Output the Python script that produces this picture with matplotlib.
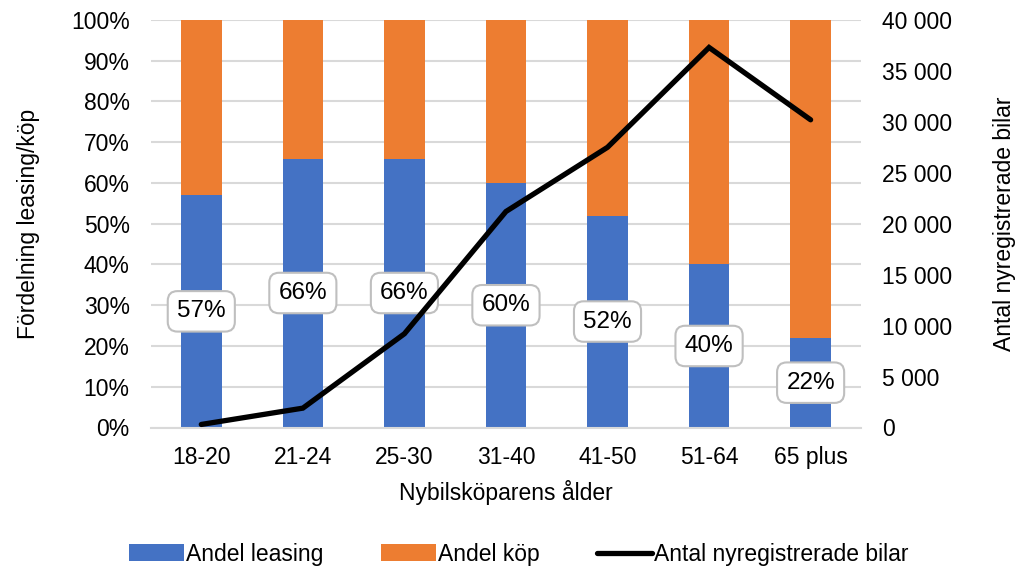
import matplotlib.pyplot as plt
import numpy as np
from matplotlib.ticker import FuncFormatter

plt.rcParams['font.family'] = ['Liberation Sans', 'DejaVu Sans']

# age groups and shares (percent of new-car buyers)
age_groups = ['18-20', '21-24', '25-30', '31-40', '41-50', '51-64', '65 plus']
andel_leasing = [57, 66, 66, 60, 52, 40, 22]
andel_kop = [100 - v for v in andel_leasing]
# registered cars per age group
antal_bilar = [300, 1900, 9200, 21200, 27500, 37300, 30200]

blue = '#4472c4'
orange = '#ed7d31'
grid_col = '#d9d9d9'
fs = 16.5

fig = plt.figure(figsize=(10.17, 5.70), dpi=100)
ax = fig.add_axes([0.148, 0.25, 0.699, 0.715])
ax2 = ax.twinx()

x = np.arange(len(age_groups))
b1 = ax.bar(x, andel_leasing, width=0.4, color=blue, label='Andel leasing', zorder=2)
b2 = ax.bar(x, andel_kop, width=0.4, bottom=andel_leasing, color=orange,
            label='Andel köp', zorder=2)

for xi, v in zip(x, andel_leasing):
    ax.text(xi, v / 2, f'{v}%', ha='center', va='center', fontsize=17.5, zorder=5,
            bbox=dict(boxstyle='round,pad=0.38,rounding_size=0.4', fc='white',
                      ec='#bfbfbf', lw=1.5))

ln, = ax2.plot(x, antal_bilar, color='black', lw=3.8, solid_capstyle='round',
               solid_joinstyle='miter', label='Antal nyregistrerade bilar', zorder=4)

ax.set_xlim(-0.5, len(age_groups) - 0.5)
ax.set_ylim(0, 100)
ax.set_yticks(range(0, 101, 10))
ax.yaxis.set_major_formatter(FuncFormatter(lambda v, p: f'{v:.0f}%'))
ax2.set_ylim(0, 40000)
ax2.set_yticks(range(0, 40001, 5000))
ax2.yaxis.set_major_formatter(
    FuncFormatter(lambda v, p: f'{int(v):,}'.replace(',', ' ')))

ax.set_xticks(x)
ax.set_xticklabels(age_groups)
ax.grid(axis='y', color=grid_col, lw=1.5, zorder=0)
ax.set_axisbelow(True)

for a in (ax, ax2):
    for s in a.spines.values():
        s.set_visible(False)
    a.tick_params(length=0, labelsize=fs, colors='black')
ax.spines['bottom'].set_visible(True)
ax.spines['bottom'].set_color(grid_col)
ax.spines['bottom'].set_linewidth(1.5)
ax.tick_params(axis='x', pad=13)
ax.tick_params(axis='y', pad=15)
ax2.tick_params(axis='y', pad=15)

# keep the line above the bar labels' axes
ax.set_zorder(ax2.get_zorder() - 1)
ax.patch.set_visible(False)

ax.set_xlabel('Nybilsköparens ålder', fontsize=fs, labelpad=8)
ax.set_ylabel('Fördelning leasing/köp', fontsize=fs, labelpad=22)
ax2.set_ylabel('Antal nyregistrerade bilar', fontsize=fs, labelpad=29)

fig.legend([b1, b2, ln], ['Andel leasing', 'Andel köp', 'Antal nyregistrerade bilar'],
           loc='center', bbox_to_anchor=(0.51, 0.028), ncol=3, frameon=False,
           fontsize=fs, handlelength=2.4, handleheight=0.7, columnspacing=2.5,
           handletextpad=0.1)

fig.savefig('out.png', dpi=100)
